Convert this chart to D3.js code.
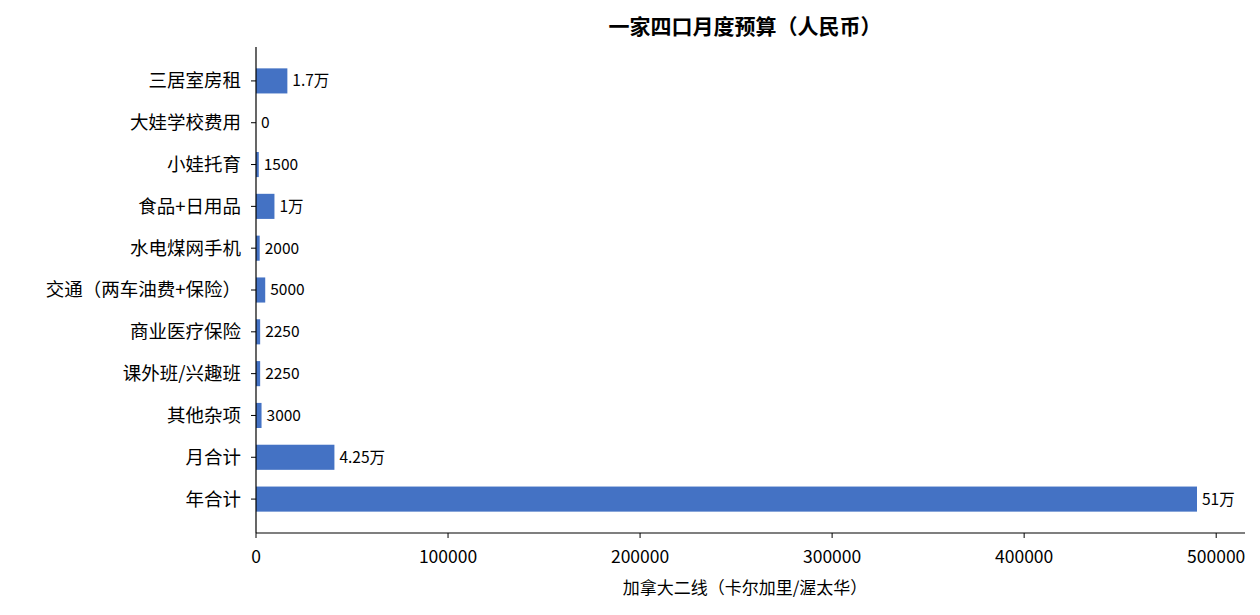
<!DOCTYPE html><html><head><meta charset="utf-8"><script src="https://cdn.jsdelivr.net/npm/d3@7"></script>
<style>body{margin:0;background:#fff;font-family:"Noto Sans CJK SC","Noto Sans",sans-serif}</style></head><body>
<svg id="c" width="1260" height="615"></svg>
<script>
const categories=["三居室房租","大娃学校费用","小娃托育","食品+日用品","水电煤网手机","交通（两车油费+保险）","商业医疗保险","课外班/兴趣班","其他杂项","月合计","年合计"];
const values=[17000,0,1500,10000,2000,5000,2250,2250,3000,42500,510000];
const labels=["1.7万","0","1500","1万","2000","5000","2250","2250","3000","4.25万","51万"];
const ticks=[0,100000,200000,300000,400000,500000];
const svg=d3.select("#c"),F='"Noto Sans CJK SC",sans-serif';
const x=d3.scaleLinear().domain([0,515000]).range([256,1245]);
const y=d3.scaleBand().domain(categories).range([60,520]).paddingInner(0.4).paddingOuter(0.2);
const xb=d3.scaleLinear().domain([0,510000]).range([256,1197]);
svg.selectAll("rect").data(values).enter().append("rect").attr("x",xb(0)).attr("y",(d,i)=>y(categories[i])).attr("width",d=>xb(d)-xb(0)).attr("height",y.bandwidth()).attr("fill","#4472c4");
svg.selectAll(".v").data(values).enter().append("text").attr("x",d=>xb(d)+5).attr("y",(d,i)=>y(categories[i])+y.bandwidth()/2).attr("dy","0.35em").attr("font-size",15.5).attr("font-family",F).text((d,i)=>labels[i]);
svg.selectAll(".c").data(categories).enter().append("text").attr("x",241).attr("y",d=>y(d)+y.bandwidth()/2).attr("dy","0.35em").attr("text-anchor","end").attr("font-size",18.5).attr("font-family",F).text(d=>d);
svg.selectAll(".yt").data(categories).enter().append("line").attr("x1",251).attr("x2",256).attr("y1",d=>y(d)+y.bandwidth()/2).attr("y2",d=>y(d)+y.bandwidth()/2).attr("stroke","#000");
svg.append("line").attr("x1",256).attr("x2",256).attr("y1",47).attr("y2",533).attr("stroke","#000").attr("stroke-width",1.2);
svg.append("line").attr("x1",256).attr("x2",1245).attr("y1",533).attr("y2",533).attr("stroke","#000").attr("stroke-width",1.2);
ticks.forEach(t=>{svg.append("line").attr("x1",x(t)).attr("x2",x(t)).attr("y1",533).attr("y2",538).attr("stroke","#000");
svg.append("text").attr("x",x(t)).attr("y",563).attr("text-anchor","middle").attr("font-size",17.5).attr("font-family",F).text(t);});
svg.append("text").attr("x",745).attr("y",594).attr("text-anchor","middle").attr("font-size",17).attr("font-family",F).text("加拿大二线（卡尔加里/渥太华）");
svg.append("text").attr("x",745).attr("y",34).attr("text-anchor","middle").attr("font-size",21).attr("font-weight","bold").attr("font-family",F).text("一家四口月度预算（人民币）");
</script></body></html>
